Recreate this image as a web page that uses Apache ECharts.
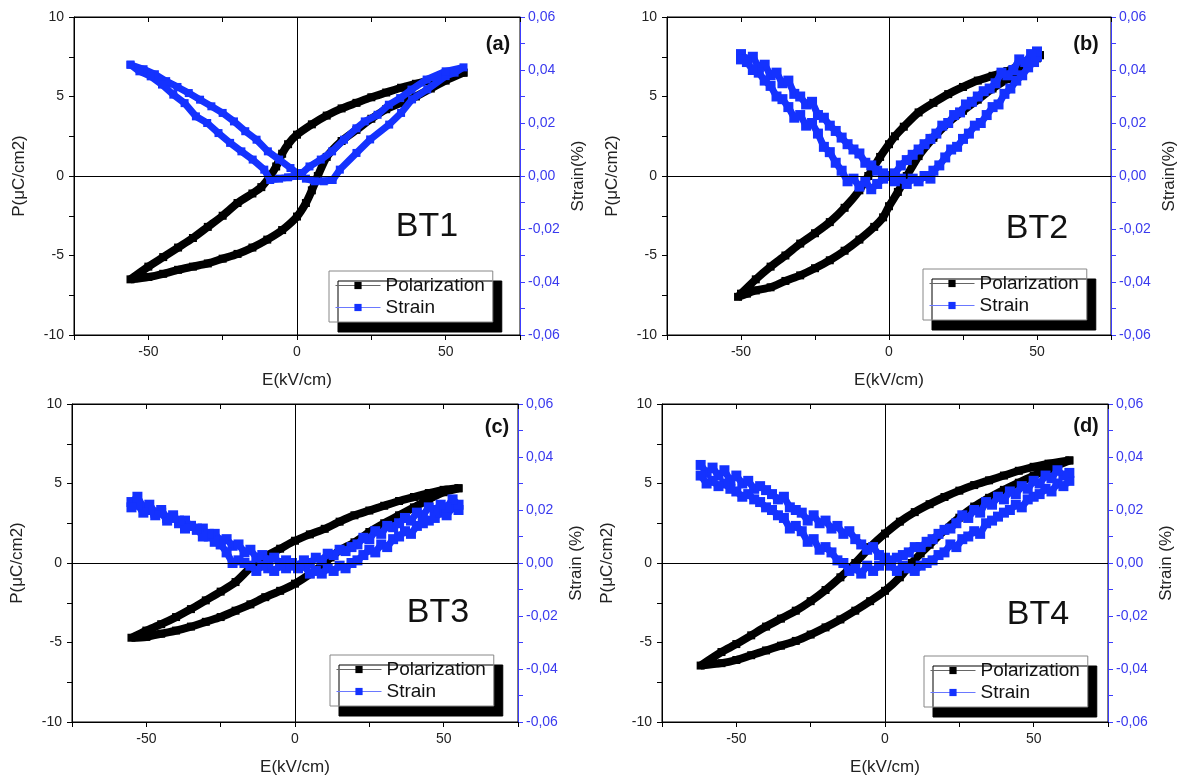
<!DOCTYPE html>
<html>
<head>
<meta charset="utf-8">
<title>BT1-BT4 P-E and strain loops</title>
<script src="https://cdn.jsdelivr.net/npm/echarts@6/dist/echarts.min.js"></script>
<style>
  html, body { margin: 0; padding: 0; background: #fff; }
  #chart { width: 1179px; height: 778px; }
</style>
</head>
<body>
<div id="chart"></div>
<script>
// 极化回线 P (µC/cm2) 和应变 (%)，E 单位 kV/cm
// (a) BT1
const polA = [[56,6.5],[50,6.3],[45,6.05],[40,5.8],[35,5.55],[30,5.25],[25,4.95],[20,4.6],[15,4.25],[10,3.8],[5,3.25],[0,2.6],[-3,2.0],[-5,1.4],[-7,0.6],[-9,0],[-12,-0.7],[-15,-1.1],[-20,-1.7],[-25,-2.5],[-30,-3.2],[-35,-3.9],[-40,-4.5],[-45,-5.1],[-50,-5.7],[-56,-6.5],
  [-50,-6.35],[-45,-6.15],[-40,-5.9],[-35,-5.7],[-30,-5.5],[-25,-5.2],[-20,-4.9],[-15,-4.5],[-10,-4.0],[-5,-3.4],[0,-2.55],[3,-1.7],[5,-0.9],[7,0],[10,1.2],[15,2.2],[20,2.9],[25,3.6],[30,4.2],[35,4.6],[40,5.0],[45,5.5],[50,6.0],[56,6.5]];
const strA = [[-56,0.042],[-51.6,0.0403],[-47.8,0.0384],[-44,0.0358],[-40.2,0.0336],[-36.4,0.0313],[-32.6,0.0288],[-28.8,0.0263],[-25,0.0238],[-21.2,0.0206],[-17.4,0.0169],[-13.6,0.0137],[-9.8,0.0093],[-6,0.0062],[-2.2,0.003],[0,0.0011],[3,-0.001],[6,-0.002],[9,-0.002],[12,-0.0015],[14.4,0.0024],[20,0.0087],[24.6,0.0138],[31,0.0194],[35,0.0238],[38.7,0.0289],[43.8,0.0327],[50,0.0377],[53,0.039],[56,0.041],
  [50,0.0395],[43.6,0.0364],[38.5,0.0326],[34.7,0.0294],[30.9,0.0269],[27.1,0.0231],[22.8,0.0206],[20,0.018],[15.8,0.0137],[11.8,0.0093],[8,0.0062],[4.2,0.0036],[1.7,0.0011],[0,0],[-3,-0.0005],[-6,-0.001],[-9,-0.0015],[-11,0.0024],[-14.9,0.0062],[-18.7,0.0093],[-22.5,0.0125],[-26.4,0.0162],[-30.2,0.02],[-34,0.0225],[-37.8,0.0275],[-41.6,0.0307],[-45.4,0.0345],[-49.2,0.0376],[-53,0.0395],[-56,0.042]];
// (b) BT2
const polB = [[51,7.6],[50,7.45],[45,7.05],[40,6.6],[35,6.3],[30,6.0],[25,5.6],[20,5.15],[15,4.6],[10,4.0],[5,3.1],[2,2.5],[0,2.0],[-3,1.2],[-5,0.6],[-7,0],[-10,-0.9],[-15,-2.0],[-20,-2.9],[-25,-3.6],[-30,-4.25],[-35,-5.0],[-40,-5.7],[-45,-6.5],[-50,-7.4],[-51,-7.6],
  [-48,-7.4],[-45,-7.2],[-40,-7.0],[-35,-6.6],[-30,-6.25],[-25,-5.8],[-20,-5.3],[-15,-4.7],[-10,-4.0],[-5,-3.2],[-2,-2.6],[0,-1.9],[3,-1.0],[6,0],[10,1.25],[15,2.4],[20,3.35],[25,4.1],[30,4.8],[35,5.5],[40,6.1],[45,6.75],[50,7.4],[51,7.6]];
const strB = [[-50,0.046],[-48,0.044],[-46,0.045],[-44,0.041],[-42,0.042],[-40,0.038],[-38,0.039],[-36,0.035],[-34,0.036],[-32,0.031],[-30,0.030],[-28,0.027],[-26,0.028],[-24,0.023],[-22,0.022],[-20,0.019],[-18,0.017],[-16,0.0145],[-14,0.012],[-12,0.010],[-10,0.0085],[-8,0.005],[-6,0.004],[-4,0.002],[-2,0.001],[0,0],[2,-0.002],[4,-0.001],[6,-0.003],[8,-0.001],[10,-0.002],[12,0],[14,-0.001],[15,0.002],[17,0.004],[19,0.007],[21,0.010],[23,0.011],[25,0.014],[27,0.016],[29,0.019],[31,0.020],[33,0.023],[35,0.026],[37,0.027],[39,0.031],[41,0.033],[43,0.036],[45,0.038],[47,0.041],[49,0.043],[50,0.045],
  [50,0.047],[48,0.046],[46,0.043],[44,0.044],[42,0.040],[40,0.038],[38,0.039],[36,0.035],[34,0.033],[32,0.032],[30,0.030],[28,0.028],[26,0.027],[24,0.024],[22,0.023],[20,0.020],[18,0.019],[16,0.016],[14,0.014],[12,0.012],[10,0.010],[8,0.008],[6,0.006],[4,0.004],[2,0.001],[0,0],[-2,-0.001],[-4,-0.003],[-6,-0.005],[-8,-0.002],[-10,-0.004],[-12,-0.001],[-14,-0.002],[-16,0.002],[-18,0.005],[-20,0.009],[-22,0.011],[-24,0.016],[-26,0.020],[-28,0.019],[-30,0.023],[-32,0.022],[-34,0.026],[-36,0.029],[-38,0.030],[-40,0.034],[-42,0.036],[-44,0.039],[-46,0.040],[-48,0.043],[-50,0.044]];
// (c) BT3
const polC = [[55,4.7],[50,4.6],[45,4.4],[40,4.15],[35,3.9],[30,3.6],[25,3.3],[20,3.0],[15,2.6],[10,2.15],[5,1.8],[0,1.4],[-5,0.9],[-10,0.4],[-12,0.1],[-15,-0.3],[-20,-1.2],[-25,-1.8],[-30,-2.35],[-35,-2.9],[-40,-3.4],[-45,-3.85],[-50,-4.25],[-55,-4.7],
  [-50,-4.65],[-45,-4.45],[-40,-4.25],[-35,-4.0],[-30,-3.7],[-25,-3.4],[-20,-3.0],[-15,-2.6],[-10,-2.15],[-5,-1.75],[0,-1.3],[5,-0.7],[10,0],[12,0.35],[15,0.8],[20,1.3],[25,1.95],[30,2.5],[35,3.0],[40,3.5],[45,4.0],[50,4.45],[55,4.7]];
const strC = [[-55,0.023],[-53,0.025],[-51,0.021],[-49,0.022],[-47,0.019],[-45,0.020],[-43,0.017],[-41,0.018],[-39,0.015],[-37,0.016],[-35,0.014],[-33,0.0125],[-31,0.013],[-29,0.010],[-27,0.011],[-25,0.0085],[-23,0.009],[-21,0.0065],[-19,0.007],[-17,0.004],[-15,0.005],[-13,0.002],[-11,0.003],[-9,0.001],[-7,0.002],[-5,0],[-3,0.001],[-1,-0.001],[1,-0.002],[3,-0.001],[5,-0.004],[7,-0.003],[9,-0.004],[11,-0.002],[13,-0.003],[15,-0.001],[17,-0.002],[19,0],[21,0.001],[23,0.003],[25,0.005],[27,0.004],[29,0.007],[31,0.006],[33,0.009],[35,0.010],[37,0.012],[39,0.011],[41,0.014],[43,0.015],[45,0.016],[47,0.017],[49,0.019],[51,0.018],[53,0.021],[55,0.020],
  [55,0.022],[53,0.024],[51,0.021],[49,0.022],[47,0.020],[45,0.021],[43,0.018],[41,0.019],[39,0.016],[37,0.017],[35,0.015],[33,0.0135],[31,0.014],[29,0.011],[27,0.012],[25,0.009],[23,0.0095],[21,0.007],[19,0.006],[17,0.0045],[15,0.005],[13,0.003],[11,0.0035],[9,0.001],[7,0.002],[5,0],[3,0.001],[1,-0.001],[-1,0],[-3,-0.002],[-5,-0.001],[-7,-0.003],[-9,-0.002],[-11,-0.001],[-13,-0.003],[-15,-0.001],[-17,0],[-19,0.001],[-21,0],[-23,0.004],[-25,0.007],[-27,0.008],[-29,0.011],[-31,0.010],[-33,0.013],[-35,0.014],[-37,0.013],[-39,0.016],[-41,0.017],[-43,0.016],[-45,0.019],[-47,0.018],[-49,0.020],[-51,0.019],[-53,0.022],[-55,0.021]];
// (d) BT4
const polD = [[62,6.45],[55,6.25],[50,6.05],[45,5.8],[40,5.5],[35,5.2],[30,4.9],[25,4.55],[20,4.15],[15,3.7],[10,3.2],[5,2.6],[0,1.85],[-5,1.0],[-10,0],[-15,-0.9],[-20,-1.7],[-25,-2.4],[-30,-3.0],[-35,-3.5],[-40,-4.0],[-45,-4.55],[-50,-5.1],[-55,-5.6],[-62,-6.45],
  [-55,-6.3],[-50,-6.1],[-45,-5.8],[-40,-5.5],[-35,-5.2],[-30,-4.9],[-25,-4.5],[-20,-4.05],[-15,-3.55],[-10,-3.0],[-5,-2.4],[0,-1.75],[5,-0.9],[9,0],[12,0.6],[15,1.15],[20,2.05],[25,2.85],[30,3.55],[35,4.1],[40,4.6],[45,5.05],[50,5.5],[55,5.9],[62,6.45]];
const strD = [[-62,0.037],[-60,0.034],[-58,0.036],[-56,0.033],[-54,0.035],[-52,0.031],[-50,0.033],[-48,0.030],[-46,0.031],[-44,0.028],[-42,0.029],[-40,0.0275],[-38,0.026],[-36,0.024],[-34,0.025],[-32,0.021],[-30,0.020],[-28,0.019],[-26,0.016],[-24,0.018],[-22,0.015],[-20,0.016],[-18,0.013],[-16,0.014],[-14,0.011],[-12,0.012],[-10,0.009],[-8,0.007],[-6,0.005],[-4,0.006],[-2,0.003],[0,0.002],[2,-0.001],[4,-0.003],[6,-0.001],[8,-0.002],[10,-0.003],[12,-0.001],[14,0],[16,0.001],[18,0.003],[20,0.004],[22,0.007],[24,0.006],[26,0.009],[28,0.010],[30,0.012],[32,0.011],[34,0.015],[36,0.016],[38,0.0175],[40,0.019],[42,0.020],[44,0.022],[46,0.021],[48,0.024],[50,0.025],[52,0.026],[54,0.028],[56,0.027],[58,0.030],[60,0.029],[62,0.031],
  [62,0.034],[60,0.033],[58,0.035],[56,0.032],[54,0.033],[52,0.030],[50,0.031],[48,0.028],[46,0.029],[44,0.026],[42,0.027],[40,0.024],[38,0.025],[36,0.022],[34,0.023],[32,0.019],[30,0.020],[28,0.017],[26,0.018],[24,0.015],[22,0.013],[20,0.0125],[18,0.011],[16,0.009],[14,0.008],[12,0.006],[10,0.006],[8,0.004],[6,0.003],[4,0.002],[2,0.001],[0,0.001],[-2,-0.001],[-4,-0.003],[-6,-0.001],[-8,-0.004],[-10,-0.002],[-12,-0.003],[-14,0],[-16,0.001],[-18,0.004],[-20,0.006],[-22,0.005],[-24,0.009],[-26,0.008],[-28,0.012],[-30,0.014],[-32,0.013],[-34,0.017],[-36,0.018],[-38,0.020],[-40,0.021],[-42,0.023],[-44,0.024],[-46,0.026],[-48,0.025],[-50,0.027],[-52,0.028],[-54,0.030],[-56,0.029],[-58,0.031],[-60,0.030],[-62,0.033]];

const tags = ['(a)', '(b)', '(c)', '(d)'];
const samples = ['BT1', 'BT2', 'BT3', 'BT4'];
const strainNames = ['Strain(%)', 'Strain(%)', 'Strain (%)', 'Strain (%)'];

const FONT = 'Liberation Sans, Arial, sans-serif';
const BLUE = '#1432ff';

// 每个子图的位置
const panels = [
  { pol: polA, str: strA, grid: { left: 74, top: 17, width: 446, height: 318 }, legend: { left: 329, top: 271 }, tagPos: [498, 44], namePos: [427, 227], strSize: 8, strWidth: 7 },
  { pol: polB, str: strB, grid: { left: 667, top: 17, width: 444, height: 318 }, legend: { left: 923, top: 269 }, tagPos: [1086, 44], namePos: [1037, 229], strSize: 10, strWidth: 7 },
  { pol: polC, str: strC, grid: { left: 72, top: 404, width: 446, height: 318 }, legend: { left: 330, top: 655 }, tagPos: [497, 427], namePos: [438, 613], strSize: 10, strWidth: 7 },
  { pol: polD, str: strD, grid: { left: 662, top: 404, width: 446, height: 318 }, legend: { left: 924, top: 656 }, tagPos: [1086, 426], namePos: [1038, 615], strSize: 10, strWidth: 7 }
];

const option = {
  animation: false,
  backgroundColor: '#fff',
  textStyle: { fontFamily: FONT },
  grid: [], xAxis: [], yAxis: [], series: [], legend: [], graphic: []
};

panels.forEach(function (p, i) {
  option.grid.push(Object.assign({ show: true, borderColor: '#000', borderWidth: 1, containLabel: false }, p.grid));
  // 底部 x 轴
  option.xAxis.push({
    gridIndex: i, type: 'value', min: -75, max: 75, interval: 25, position: 'bottom',
    name: 'E(kV/cm)', nameLocation: 'middle', nameGap: 37,
    nameTextStyle: { fontSize: 17, color: '#222', fontFamily: FONT },
    axisLine: { onZero: false, lineStyle: { color: '#000', width: 1 } },
    axisTick: { length: 5, lineStyle: { color: '#000' } },
    axisLabel: { fontSize: 14, color: '#222', margin: 10, fontFamily: FONT,
      formatter: function (v) { return v % 50 === 0 ? String(v) : ''; } },
    splitLine: { show: false }
  });
  // 顶部 x 轴 (只画刻度)
  option.xAxis.push({
    gridIndex: i, type: 'value', min: -75, max: 75, interval: 25, position: 'top',
    axisLine: { onZero: false, lineStyle: { color: '#000' } },
    axisTick: { inside: true, length: 5, lineStyle: { color: '#000' } },
    axisLabel: { show: false }, splitLine: { show: false }
  });
  // 左 y 轴 P
  option.yAxis.push({
    gridIndex: i, type: 'value', min: -10, max: 10, interval: 2.5, position: 'left',
    name: 'P(μC/cm2)', nameLocation: 'middle', nameGap: 46, nameRotate: 90,
    nameTextStyle: { fontSize: 17, color: '#222', fontFamily: FONT },
    axisLine: { show: true, onZero: false, lineStyle: { color: '#000' } },
    axisTick: { show: true, length: 5, lineStyle: { color: '#000' } },
    axisLabel: { fontSize: 14, color: '#222', margin: 10, fontFamily: FONT,
      formatter: function (v) { return v % 5 === 0 ? String(v) : ''; } },
    splitLine: { show: false }
  });
  // 右 y 轴 Strain
  option.yAxis.push({
    gridIndex: i, type: 'value', min: -0.06, max: 0.06, interval: 0.01, position: 'right',
    name: strainNames[i], nameLocation: 'middle', nameGap: 50, nameRotate: 90,
    nameTextStyle: { fontSize: 17, color: '#222', fontFamily: FONT },
    axisLine: { show: true, onZero: false, lineStyle: { color: '#3c3cff' } },
    axisTick: { show: true, length: 5, lineStyle: { color: '#3c3cff' } },
    axisLabel: { fontSize: 14, color: '#3a3aee', margin: 8, fontFamily: FONT,
      formatter: function (v) {
        const k = Math.round(v * 100);
        return k % 2 === 0 ? (k / 100).toFixed(2).replace('.', ',') : '';
      } },
    splitLine: { show: false }
  });

  option.series.push({
    name: 'Polarization', type: 'line', xAxisIndex: i * 2, yAxisIndex: i * 2,
    data: p.pol, symbol: 'rect', symbolSize: 8, showSymbol: true, smooth: 0.25,
    itemStyle: { color: '#000' }, lineStyle: { color: '#000', width: 8 },
    z: 2,
    markLine: {
      silent: true, symbol: ['none', 'none'], label: { show: false },
      lineStyle: { color: '#000', width: 1, type: 'solid' },
      data: [{ xAxis: 0 }, { yAxis: 0 }]
    }
  });
  option.series.push({
    name: 'Strain', type: 'line', xAxisIndex: i * 2, yAxisIndex: i * 2 + 1,
    data: p.str, symbol: 'rect', symbolSize: p.strSize, showSymbol: true,
    itemStyle: { color: BLUE }, lineStyle: { color: BLUE, width: p.strWidth },
    z: 3
  });

  option.legend.push({
    orient: 'vertical', left: p.legend.left, top: p.legend.top,
    padding: [5, 8, 5, 6], itemGap: 3, itemWidth: 45, itemHeight: 9,
    backgroundColor: '#fff', borderColor: '#888', borderWidth: 1,
    shadowColor: '#000', shadowBlur: 0, shadowOffsetX: 9, shadowOffsetY: 10,
    textStyle: { fontSize: 19, color: '#111', fontFamily: FONT },
    selectedMode: false,
    data: [
      { name: 'Polarization', lineStyle: { color: '#666', width: 1 } },
      { name: 'Strain', lineStyle: { color: '#6a78ff', width: 1 } }
    ]
  });

  option.graphic.push({
    type: 'text', x: p.tagPos[0], y: p.tagPos[1], z: 10,
    style: { text: tags[i], font: 'bold 20px ' + FONT, fill: '#111', align: 'center', verticalAlign: 'middle' }
  });
  option.graphic.push({
    type: 'text', x: p.namePos[0], y: p.namePos[1], z: 10,
    style: { text: samples[i], font: '34px ' + FONT, fill: '#111', align: 'center', verticalAlign: 'middle' }
  });
});

const chartObj = echarts.init(document.getElementById('chart'));
chartObj.setOption(option);
window.addEventListener('resize', function () { chartObj.resize(); });
</script>
</body>
</html>
